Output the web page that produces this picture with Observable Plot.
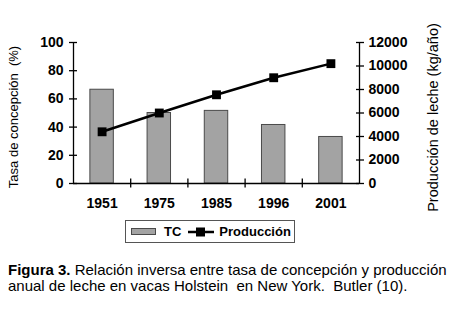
<!DOCTYPE html>
<html><head><meta charset="utf-8">
<script src="https://cdn.jsdelivr.net/npm/d3@7"></script>
<script src="https://cdn.jsdelivr.net/npm/@observablehq/plot@0.6"></script>
<style>
body{margin:0;background:#fff;}
#wrap{position:relative;width:453px;height:315px;font-family:"Liberation Sans",Arial,sans-serif;color:#000;}
#legend{position:absolute;left:125px;top:220px;width:170px;height:23px;border:1px solid #555;box-sizing:border-box;display:flex;align-items:center;font-weight:bold;font-size:13px;}
#caption{position:absolute;left:8px;top:262px;font-size:15px;line-height:15.5px;white-space:pre;}
#caption div{height:15.5px;}
</style></head><body><div id="wrap"></div>
<script>
const years = ["1951", "1975", "1985", "1996", "2001"];
const tasaConcepcion = [66.5, 50, 51.5, 41.5, 33];
const produccion = [4400, 6000, 7550, 9000, 10200];
const leftTicks = [0, 20, 40, 60, 80, 100];
const rightTicks = [0, 2000, 4000, 6000, 8000, 10000, 12000];
const seriesNames = ["TC", "Producción"];
const leftTitle = "Tasa de concepción  (%)";
const rightTitle = "Producción de leche (kg/año)";
const captionBold = "Figura 3.";
const captionText = " Relación inversa entre tasa de concepción y producción";
const captionText2 = "anual de leche en vacas Holstein  en New York.  Butler (10).";

const ratio = rightTicks[rightTicks.length - 1] / leftTicks[leftTicks.length - 1];
const data = years.map((y, i) => ({i, year: y, tc: tasaConcepcion[i], prod: produccion[i]}));
const idx = years.map((_, i) => i);
const bounds = idx.slice(0, -1).map(i => i + 0.5);
const xDom = [-0.5, years.length - 0.5];
const half = 0.205;
const font = "Liberation Sans, Arial, sans-serif";

const chart = Plot.plot({
  width: 453, height: 215,
  marginLeft: 73, marginRight: 94, marginTop: 42, marginBottom: 32,
  x: {domain: xDom, axis: null},
  y: {domain: [0, 100], axis: null},
  style: {fontFamily: font, color: "#000", background: "#fff", overflow: "visible"},
  marks: [
    Plot.rectY(data, {x1: d => d.i - half, x2: d => d.i + half, y1: 0, y2: "tc", fill: "#a3a3a3", stroke: "#4a4a4a", strokeWidth: 1}),
    Plot.ruleY([0], {stroke: "#000", strokeWidth: 1.3}),
    Plot.ruleX(xDom, {y1: 0, y2: 100, stroke: "#000", strokeWidth: 1.3}),
    Plot.axisX(bounds, {anchor: "bottom", tickSize: 9, dy: -4.5, tickFormat: () => "", strokeWidth: 1.3, label: null}),
    Plot.axisX(idx, {anchor: "bottom", tickSize: 0, tickPadding: 15, tickFormat: i => years[i], fontSize: 14, fontWeight: "bold", label: null}),
    Plot.axisY(leftTicks, {anchor: "left", tickSize: 8, dx: 4, tickFormat: () => "", strokeWidth: 1.3, label: null}),
    Plot.axisY(leftTicks, {anchor: "left", tickSize: 0, tickPadding: 10, fontSize: 14, fontWeight: "bold", letterSpacing: "0.6px", label: null}),
    Plot.axisY(rightTicks.map(v => v / ratio), {anchor: "right", tickSize: 8, dx: -4, tickFormat: () => "", strokeWidth: 1.3, label: null}),
    Plot.axisY(rightTicks.map(v => v / ratio), {anchor: "right", tickSize: 0, tickPadding: 9, tickFormat: d => String(Math.round(d * ratio)), fontSize: 14, fontWeight: "bold", letterSpacing: "0.6px", label: null}),
    Plot.line(data, {x: "i", y: d => d.prod / ratio, stroke: "#000", strokeWidth: 2.5}),
    Plot.dot(data, {x: "i", y: d => d.prod / ratio, symbol: "square", r: 5, fill: "#000", stroke: "none"}),
    Plot.text([leftTitle], {frameAnchor: "left", dx: -60, dy: 4, rotate: -90, fontSize: 13, textAnchor: "middle"}),
    Plot.text([rightTitle], {frameAnchor: "right", dx: 74, dy: 4.5, rotate: -90, fontSize: 14.5, textAnchor: "middle"})
  ]
});
const wrap = document.getElementById("wrap");
wrap.appendChild(chart);

const legend = document.createElement("div");
legend.id = "legend";
legend.innerHTML =
  `<svg width="26" height="8" style="margin-left:5px"><rect x="0.5" y="0.5" width="24" height="6" fill="#a3a3a3" stroke="#4a4a4a"/></svg>` +
  `<span style="margin-left:7px">${seriesNames[0]}</span>` +
  `<svg width="27" height="12" style="margin-left:7px"><line x1="0" y1="6" x2="26" y2="6" stroke="#000" stroke-width="2.5"/><rect x="8" y="1.5" width="9" height="9" fill="#000"/></svg>` +
  `<span style="margin-left:4px">${seriesNames[1]}</span>`;
wrap.appendChild(legend);

const cap = document.createElement("div");
cap.id = "caption";
cap.innerHTML = `<div><b>${captionBold}</b><span>${captionText}</span></div><div><span>${captionText2}</span></div>`;
wrap.appendChild(cap);
</script>
</body></html>
